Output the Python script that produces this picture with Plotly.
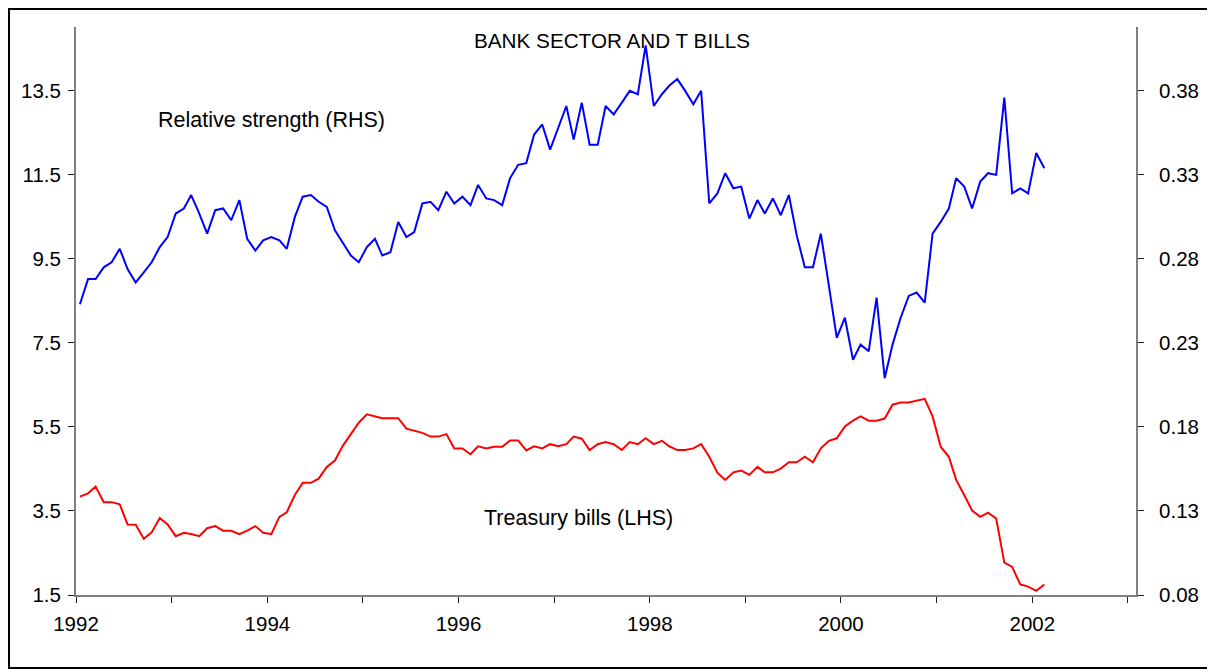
import pandas as pd
import plotly.graph_objects as go

# Monthly observations, Jan 1992 .. Feb 2002
months = pd.date_range("1992-01-01", "2002-02-01", freq="MS")

# Treasury bills (LHS, %)
tbills = [3.84, 3.92, 4.08, 3.71, 3.71, 3.66, 3.18, 3.17, 2.84, 2.99, 3.33, 3.18,
          2.90, 2.98, 2.95, 2.90, 3.09, 3.14, 3.03, 3.03, 2.95, 3.03, 3.14, 2.98,
          2.95, 3.36, 3.47, 3.88, 4.17, 4.17, 4.27, 4.55, 4.70, 5.05, 5.33, 5.60,
          5.80, 5.76, 5.71, 5.71, 5.71, 5.46, 5.41, 5.36, 5.27, 5.27, 5.33, 4.99,
          4.99, 4.85, 5.04, 4.99, 5.03, 5.03, 5.18, 5.18, 4.94, 5.04, 4.99, 5.09,
          5.04, 5.09, 5.27, 5.22, 4.95, 5.09, 5.14, 5.09, 4.95, 5.14, 5.09, 5.23,
          5.09, 5.17, 5.04, 4.95, 4.95, 4.99, 5.09, 4.79, 4.41, 4.24, 4.42, 4.46,
          4.36, 4.55, 4.42, 4.42, 4.51, 4.66, 4.66, 4.79, 4.66, 4.99, 5.17, 5.23,
          5.51, 5.65, 5.75, 5.65, 5.65, 5.70, 6.03, 6.08, 6.08, 6.13, 6.17, 5.75,
          5.03, 4.79, 4.24, 3.88, 3.51, 3.36, 3.46, 3.32, 2.27, 2.17, 1.75, 1.70,
          1.60, 1.75]

# Relative strength of bank sector (RHS)
relstr = [0.253, 0.268, 0.268, 0.275, 0.278, 0.286, 0.274, 0.266, 0.272, 0.278, 0.287, 0.293,
          0.307, 0.310, 0.318, 0.307, 0.295, 0.309, 0.310, 0.303, 0.315, 0.292, 0.285, 0.291,
          0.293, 0.291, 0.286, 0.305, 0.317, 0.318, 0.314, 0.311, 0.297, 0.290, 0.282, 0.278,
          0.287, 0.292, 0.282, 0.284, 0.302, 0.293, 0.296, 0.313, 0.314, 0.309, 0.320, 0.313,
          0.317, 0.312, 0.324, 0.316, 0.315, 0.312, 0.328, 0.336, 0.337, 0.354, 0.360, 0.345,
          0.358, 0.371, 0.351, 0.373, 0.348, 0.348, 0.371, 0.366, 0.373, 0.380, 0.378, 0.407,
          0.371, 0.378, 0.383, 0.387, 0.380, 0.372, 0.380, 0.313, 0.319, 0.331, 0.322, 0.323,
          0.304, 0.315, 0.307, 0.316, 0.306, 0.318, 0.294, 0.275, 0.275, 0.295, 0.264, 0.233,
          0.245, 0.220, 0.229, 0.225, 0.257, 0.209, 0.229, 0.245, 0.258, 0.260, 0.254, 0.295,
          0.302, 0.310, 0.328, 0.323, 0.310, 0.326, 0.331, 0.330, 0.376, 0.319, 0.322, 0.319,
          0.343, 0.334]

year_ticks = list(range(1992, 2004))
year_labels = [str(y) if y % 2 == 0 else "" for y in year_ticks]
left_ticks = [1.5, 3.5, 5.5, 7.5, 9.5, 11.5, 13.5]
right_ticks = [0.08, 0.13, 0.18, 0.23, 0.28, 0.33, 0.38]

title_text = "BANK SECTOR AND T BILLS"
label_rs = "Relative strength (RHS)"
label_tb = "Treasury bills (LHS)"

# plot points at the middle of each month
xpos = months + pd.Timedelta(days=15)

FONT = "Liberation Sans, Arial, sans-serif"

fig = go.Figure()
fig.add_trace(go.Scatter(x=xpos, y=tbills, mode="lines", name=label_tb,
                         line=dict(color="#FF0000", width=2), yaxis="y"))
fig.add_trace(go.Scatter(x=xpos, y=relstr, mode="lines", name=label_rs,
                         line=dict(color="#0000FF", width=2), yaxis="y2"))

# page body adds an 8px margin, so the figure is sized/offset to compensate
fig.update_layout(
    width=1207, height=663,
    margin=dict(l=68, r=79, t=19, b=76),
    paper_bgcolor="white", plot_bgcolor="white",
    showlegend=False,
    font=dict(family=FONT, size=20, color="black"),
    xaxis=dict(
        type="date",
        range=["1992-01-01", "2003-02-01"],
        tickmode="array",
        tickvals=[f"{y}-01-01" for y in year_ticks],
        ticktext=year_labels,
        ticks="outside", ticklen=6, tickwidth=1, tickcolor="#202020",
        showline=True, linecolor="#808080", linewidth=2,
        showgrid=False, zeroline=False,
        tickfont=dict(family=FONT, size=20.5, color="black"),
        ticklabelstandoff=3,
    ),
    yaxis=dict(
        range=[1.5, 15.02],
        tickmode="array", tickvals=left_ticks,
        ticktext=[f"{v:.1f}" for v in left_ticks],
        ticks="outside", ticklen=6, tickwidth=1, tickcolor="#202020",
        showline=True, linecolor="#808080", linewidth=2,
        showgrid=False, zeroline=False,
        tickfont=dict(family=FONT, size=20.5, color="black"),
        ticklabelstandoff=3,
    ),
    yaxis2=dict(
        range=[0.08, 0.418],
        overlaying="y", side="right", anchor="x",
        tickmode="array", tickvals=right_ticks,
        ticktext=[f"{v:.2f}" for v in right_ticks],
        ticks="outside", ticklen=6, tickwidth=1, tickcolor="#202020",
        showline=True, linecolor="#808080", linewidth=2,
        showgrid=False, zeroline=False,
        tickfont=dict(family=FONT, size=20.5, color="black"),
        ticklabelstandoff=11,
    ),
    annotations=[
        dict(text=title_text, xref="paper", yref="paper", x=0.506, y=0.977,
             showarrow=False, xanchor="center", yanchor="middle",
             font=dict(family=FONT, size=20.7, color="black")),
        dict(text=label_rs, xref="paper", yref="paper", x=0.184, y=0.836,
             showarrow=False, xanchor="center", yanchor="middle",
             font=dict(family=FONT, size=21.5, color="black")),
        dict(text=label_tb, xref="paper", yref="paper", x=0.4736, y=0.1356,
             showarrow=False, xanchor="center", yanchor="middle",
             font=dict(family=FONT, size=21.5, color="black")),
    ],
    shapes=[
        dict(type="rect", xref="paper", yref="paper",
             x0=-0.0632, x1=1.0717, y0=-0.1285, y1=1.0317,
             line=dict(color="black", width=2), fillcolor="rgba(0,0,0,0)",
             layer="below"),
    ],
)

fig.write_html("out.html")
